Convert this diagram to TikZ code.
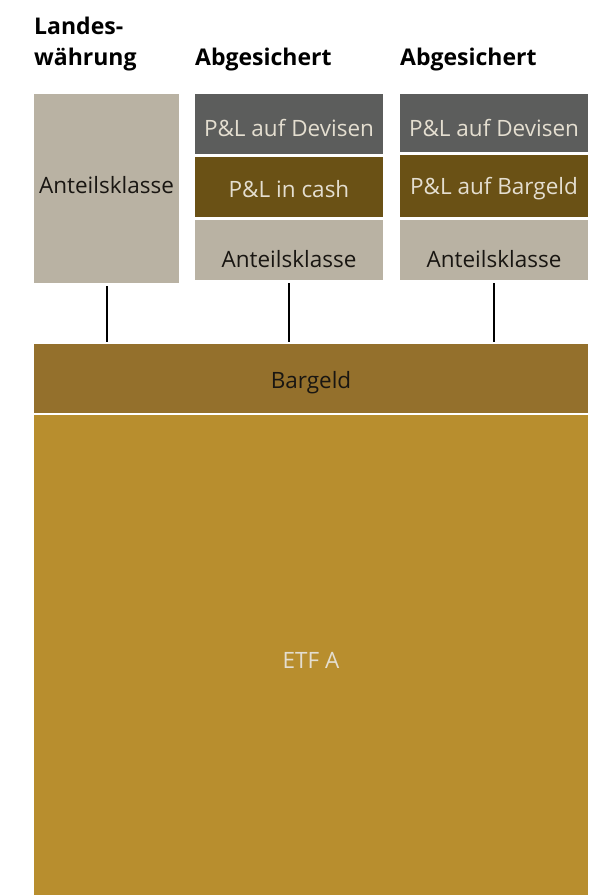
\documentclass[tikz,border=0pt]{standalone}
\usepackage{fontspec}
\setmainfont{Open Sans}
\usetikzlibrary{calc}
\definecolor{beige}{RGB}{185,178,163}
\definecolor{dgrey}{RGB}{92,93,92}
\definecolor{dbrown}{RGB}{106,81,21}
\definecolor{mbrown}{RGB}{148,112,44}
\definecolor{gold}{RGB}{184,142,46}
\definecolor{lighttxt}{RGB}{228,222,208}
\definecolor{darktxt}{RGB}{25,22,18}
\tikzset{
  box/.style={draw=none, rectangle, inner sep=0pt, outer sep=0pt, anchor=north west},
  txt/.style={inner sep=0pt, font=\fontsize{22.5}{26}\selectfont},
  hdr/.style={inner sep=0pt, align=left, font=\bfseries\fontsize{23}{31}\selectfont, anchor=base west},
  conn/.style={line width=2pt, black}
}
\begin{document}
\begin{tikzpicture}[x=1pt,y=-1pt]
\useasboundingbox (0,0) rectangle (595,895);
% headers
\node[hdr] (h1) at (34,65) {Landes-\\währung};
\node[hdr] (h2) at (195,65) {Abgesichert};
\node[hdr] (h3) at (400,65) {Abgesichert};
% left column
\node[box, fill=beige, minimum width=145pt, minimum height=189pt] (lb) at (34,94) {};
\node[txt, text=darktxt] (lbt) at (106.5,185) {Anteilsklasse};
% middle column
\node[box, fill=dgrey, minimum width=188pt, minimum height=60pt] (m1) at (195,94) {};
\node[box, fill=dbrown, minimum width=188pt, minimum height=60pt] (m2) at (195,157) {};
\node[box, fill=beige, minimum width=188pt, minimum height=60pt] (m3) at (195,220) {};
\node[txt, text=lighttxt] (m1t) at (289,128) {P\&L auf Devisen};
\node[txt, text=lighttxt] (m2t) at (289,189) {P\&L in cash};
\node[txt, text=darktxt] (m3t) at (289,259) {Anteilsklasse};
% right column
\node[box, fill=dgrey, minimum width=188pt, minimum height=58pt] (r1) at (400,94) {};
\node[box, fill=dbrown, minimum width=188pt, minimum height=62pt] (r2) at (400,155) {};
\node[box, fill=beige, minimum width=188pt, minimum height=60pt] (r3) at (400,220) {};
\node[txt, text=lighttxt] (r1t) at (494,128) {P\&L auf Devisen};
\node[txt, text=lighttxt] (r2t) at (494,189) {P\&L auf Bargeld};
\node[txt, text=darktxt] (r3t) at (494,259) {Anteilsklasse};
% bottom
\node[box, fill=mbrown, minimum width=554pt, minimum height=69pt] (bg) at (34,344) {};
\node[txt, text=darktxt] (bgt) at (311,383) {Bargeld};
\node[box, fill=gold, minimum width=554pt, minimum height=480pt] (etf) at (34,415) {};
\node[txt, text=lighttxt] (etft) at (311,660) {ETF A};
% connectors
\draw[conn] ([yshift=-3pt]lb.south) -- ([yshift=2pt]lb.south |- bg.north);
\draw[conn] ([yshift=-3pt]m3.south) -- ([yshift=2pt]m3.south |- bg.north);
\draw[conn] ([yshift=-3pt]r3.south) -- ([yshift=2pt]r3.south |- bg.north);
\end{tikzpicture}
\end{document}
